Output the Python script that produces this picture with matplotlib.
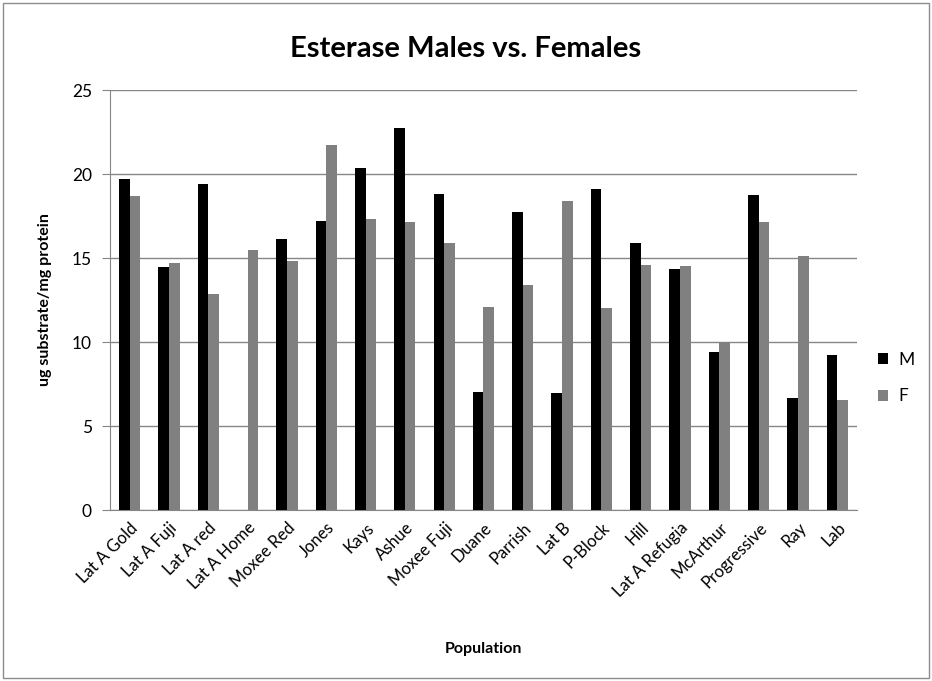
import numpy as np
import matplotlib
matplotlib.use("Agg")
import matplotlib.pyplot as plt
from matplotlib.patches import Rectangle

plt.rcParams['font.family'] = ['Lato', 'DejaVu Sans']

populations = ["Lat A Gold", "Lat A Fuji", "Lat A red", "Lat A Home", "Moxee Red",
               "Jones", "Kays", "Ashue", "Moxee Fuji", "Duane", "Parrish", "Lat B",
               "P-Block", "Hill", "Lat A Refugia", "McArthur", "Progressive", "Ray", "Lab"]
males = [19.72, 14.46, 19.38, 0.0, 16.11, 17.20, 20.36, 22.76, 18.81, 7.04,
         17.72, 6.94, 19.11, 15.89, 14.37, 9.38, 18.75, 6.65, 9.21]
females = [18.69, 14.70, 12.88, 15.46, 14.82, 21.73, 17.32, 17.16, 15.89, 12.08,
           13.39, 18.41, 12.02, 14.58, 14.52, 9.98, 17.16, 15.12, 6.53]
yticks = [0, 5, 10, 15, 20, 25]

grid_c = "#868686"
fig = plt.figure(figsize=(9.32, 6.81), dpi=100)
fig.patches.append(Rectangle((0.003, 0.004), 0.994, 0.992, transform=fig.transFigure,
                             fill=False, edgecolor="#8c8c8c", linewidth=1))
ax = fig.add_axes([0.118, 0.2511, 0.8015, 0.6167])

x = np.arange(len(populations))
w = 0.27
ax.bar(x - w / 2, males, width=w, color="black", label="M", zorder=3)
ax.bar(x + w / 2, females, width=w, color="#808080", label="F", zorder=3)

ax.set_xlim(-0.5, len(populations) - 0.5)
ax.set_ylim(0, 25)
ax.set_yticks(yticks)
ax.yaxis.grid(True, color=grid_c, linewidth=1)
ax.set_axisbelow(True)
for s in ("top", "right"):
    ax.spines[s].set_visible(False)
for s in ("left", "bottom"):
    ax.spines[s].set_color(grid_c)
ax.tick_params(axis="y", length=6, color=grid_c, labelsize=12.5, pad=7)
ax.tick_params(axis="x", length=0, labelsize=12, pad=7)
ax.set_xticks(x)
ax.set_xticklabels(populations, rotation=45, ha="right", rotation_mode="anchor")

ax.set_ylabel("ug substrate/mg protein", fontsize=11.5, fontweight="bold", labelpad=14)
ax.set_xlabel("Population", fontsize=11.5, fontweight="bold", labelpad=30)
fig.text(0.5, 0.928, "Esterase Males vs. Females", ha="center", va="center",
         fontsize=21, fontweight="bold")

fig.legend(handles=ax.get_legend_handles_labels()[0], labels=["M", "F"],
           loc="center left", bbox_to_anchor=(0.925, 0.445), frameon=False,
           fontsize=12.5, handlelength=0.6, handleheight=0.6, labelspacing=1.2,
           handletextpad=0.6)

fig.savefig("out.png", dpi=100)
